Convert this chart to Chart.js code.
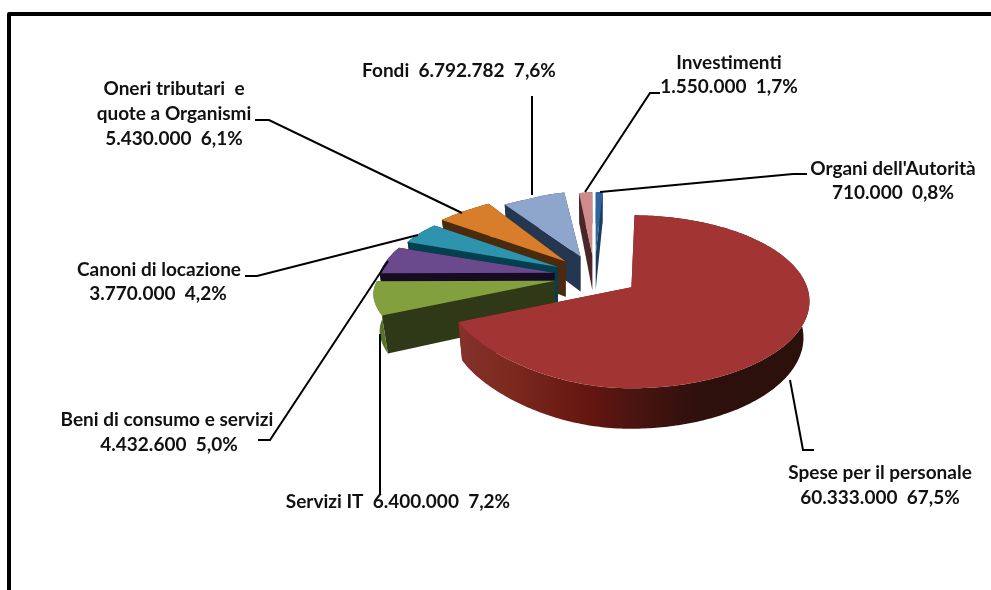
<!DOCTYPE html>
<html lang="it">
<head>
<meta charset="utf-8">
<title>Spese</title>
<script src="https://cdn.jsdelivr.net/npm/chart.js@4"></script>
<style>
html,body{margin:0;padding:0;background:#fff;overflow:hidden}
canvas{display:block}
</style>
</head>
<body>
<canvas id="c" width="991" height="590"></canvas>
<script>
// ---- data (clockwise from the top)
const categories = ["Spese per il personale","Servizi IT","Beni di consumo e servizi","Canoni di locazione","Oneri tributari e quote a Organismi","Fondi","Investimenti","Organi dell'Autorità"];
const values = [60333000,6400000,4432600,3770000,5430000,6792782,1550000,710000];
const percents = [67.5,7.2,5.0,4.2,6.1,7.6,1.7,0.8];
const labelHeads = [["Spese per il personale"],["Servizi IT"],["Beni di consumo e servizi"],["Canoni di locazione"],["Oneri tributari  e","quote a Organismi"],["Fondi"],["Investimenti"],["Organi dell'Autorità"]];
const singleLine = [false,true,false,false,false,true,false,false];

// ---- styles
const topColors = ["#A23533","#82A13E","#6A4A8C","#2E93AD","#D87E2B","#8EA5CC","#CD8C8B","#2E659F"];
const sideColors = ["#5a1512","#2F3817","#170B24","#03404F","#4B2A0D","#243650","#4A2628","#1C3C60"];
const rimWallColors = [null,"#5a7228","#170B24","#03404F","#4B2A0D","#243650","#4A2628","#1C3C60"];
const redWallStops = [[0,"#85302c"],[0.14,"#7c2a1e"],[0.37,"#651510"],[0.5,"#4a1410"],[0.68,"#2e100c"],[1,"#2a100c"]];

// ---- layout
const labelAnchors = [[880,[473,498]],[398,[502]],[167,[420,445]],[159,[270,294]],[174,[89,114,139]],[459,[71]],[729,[63,87]],[893,[169,193]]];
const valueLineX = [880,398,169,158,174,459,729,893];
const leaders = [
 [[790,380],[803,450],[814,450]],
 [[380,334],[380,495]],
 [[258,440],[270,440],[388,261]],
 [[245,276],[257,276],[418,235]],
 [[255,120],[269,120],[462,213]],
 [[532,96],[532,195]],
 [[660,93],[650,93],[585,192]],
 [[807,174],[793,174],[600,192]]
];
const EXPLODE = 42, APEX_SQUASH = 0.5, WALL_IN = 0.028;
const gLeft = v => 1 + (v>0?0.225:0.2)*v - 0.08*v*v;   // foreshortening of the rim, across
const hLeft = v => 69.1*v + 14.5*v*v + 17.4*v*v*v - (v<0 ? 6*Math.sin(Math.PI*Math.min(1,-v/0.9)) : 0); // along (left half)
const hRight = v => 14 + 86.5*v + 0.5*v*v;             // (right half)
const backSquash = dv => 1 - 0.13*Math.min(1, Math.max(0, (-dv-0.7)/0.3));
const backRadius = dv => dv<0 ? 1 - 0.05*Math.min(1,-dv/0.4) : 1;
const backShift = dv => 4*Math.max(0,(-dv-0.9)/0.1);
const depth = vt => 36 + 4*vt;

const fmt = n => String(n).replace(/\B(?=(\d{3})+$)/g,'.');
const pct = p => p.toFixed(1).replace('.',',') + '%';

function slicePath(ctx, pts){
  ctx.beginPath();
  pts.forEach((p,i)=> i?ctx.lineTo(p[0],p[1]):ctx.moveTo(p[0],p[1]));
  ctx.closePath();
}

const pie3d = {
  id:'pie3d',
  beforeDraw(chart){
    const ctx = chart.ctx;
    ctx.save();
    ctx.strokeStyle = '#000'; ctx.lineWidth = 4; ctx.lineJoin = 'round';
    ctx.beginPath(); ctx.moveTo(9,600); ctx.lineTo(9,14); ctx.lineTo(1000,14); ctx.stroke();
    ctx.restore();
  },
  beforeDatasetDraw(chart, args){
    const ctx = chart.ctx;
    const arcs = chart.getDatasetMeta(args.index).data;
    const order = arcs.map((_,i)=>i).reverse();
    ctx.save();
    order.forEach(i=>{
      const el = arcs[i];
      const {x,y,startAngle,endAngle,outerRadius:R} = el.getProps(['x','y','startAngle','endAngle','outerRadius']);
      const t0 = startAngle + Math.PI/2, t1 = endAngle + Math.PI/2, tm = (t0+t1)/2;
      const dx = Math.sin(tm), dv = -Math.cos(tm);
      const off = el.options.offset;
      const ax = x + off*dx, ay = y + off*APEX_SQUASH*dv;
      const n = Math.max(2, Math.ceil((t1-t0)*60));
      const rim = [], low = [];
      const bs = backSquash(dv), br = backRadius(dv), sh = backShift(dv);
      for(let k=0;k<=n;k++){
        const t = t0 + (t1-t0)*k/n, u = Math.sin(t), v = -Math.cos(t);
        const right = u>0;
        const px = ax + sh + R*br*u*(right ? 1 : gLeft(v)), py = ay + (right ? hRight(v) : hLeft(v)) * (v<0 ? bs : 1);
        rim.push([px,py]);
        low.push([px + (x-px)*WALL_IN, py + depth(v + off/R*dv)]);
      }
      const apex = [ax,ay], apexLow = [ax,ay+depth(off/R*dv)];
      ctx.fillStyle = sideColors[i];
      // radial walls
      slicePath(ctx,[apex,rim[0],low[0],apexLow]); ctx.fill();
      slicePath(ctx,[apex,rim[n],low[n],apexLow]); ctx.fill();
      // outer wall
      if(i===0){
        const gr = ctx.createLinearGradient(ax-R*0.956,0,ax+R,0);
        redWallStops.forEach(s=>gr.addColorStop(s[0],s[1]));
        ctx.fillStyle = gr;
      } else ctx.fillStyle = rimWallColors[i];
      slicePath(ctx,rim.concat(low.slice().reverse())); ctx.fill();
      // top face
      ctx.fillStyle = topColors[i];
      slicePath(ctx,[apex].concat(rim)); ctx.fill();
    });
    ctx.restore();
    return false;
  },
  afterDraw(chart){
    const ctx = chart.ctx;
    ctx.save();
    ctx.strokeStyle = '#000'; ctx.lineWidth = 2; ctx.lineJoin='miter';
    leaders.forEach(l=>{
      ctx.beginPath();
      l.forEach((p,i)=> i?ctx.lineTo(p[0],p[1]):ctx.moveTo(p[0],p[1]));
      ctx.stroke();
    });
    ctx.fillStyle = '#111';
    ctx.font = 'bold 19px Lato, "Open Sans", sans-serif';
    ctx.textAlign = 'center'; ctx.textBaseline = 'middle';
    categories.forEach((_,i)=>{
      const vt = fmt(values[i]) + '  ' + pct(percents[i]);
      const cx = labelAnchors[i][0], ys = labelAnchors[i][1];
      if(singleLine[i]){
        ctx.fillText(labelHeads[i][0] + '  ' + vt, cx, ys[0]);
      } else {
        labelHeads[i].forEach((t,k)=>ctx.fillText(t,cx,ys[k]));
        ctx.fillText(vt, valueLineX[i], ys[ys.length-1]);
      }
    });
    ctx.restore();
  }
};

new Chart(document.getElementById('c'),{
  type:'pie',
  data:{labels:categories,datasets:[{data:values,backgroundColor:topColors,borderWidth:0,offset:EXPLODE}]},
  options:{
    responsive:false,animation:false,
    rotation:1,radius:178,
    layout:{padding:{left:201,bottom:38}},
    plugins:{legend:{display:false},tooltip:{enabled:false}},
    events:[]
  },
  plugins:[pie3d]
});
</script>
</body>
</html>
